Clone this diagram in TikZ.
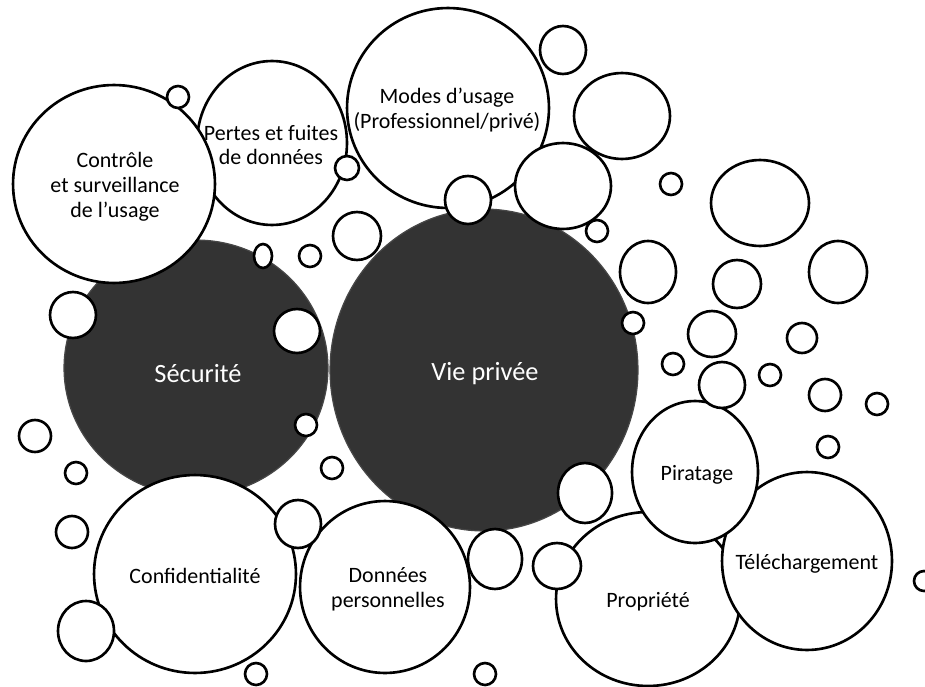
\documentclass[tikz,border=0pt]{standalone}
\usepackage{fontspec}
\setmainfont{Carlito}
\usetikzlibrary{shapes.geometric}

\tikzset{
  bub/.style 2 args={ellipse, draw, fill=white, line width=1.5pt, inner sep=0pt,
    minimum width=#1*0.04cm, minimum height=#2*0.04cm},
  darkbub/.style 2 args={ellipse, draw=black!72, fill=black!80, line width=0.7pt,
    inner sep=0pt, minimum width=#1*0.04cm, minimum height=#2*0.04cm},
  lab/.style={font=\fontsize{12.5}{14.2}\selectfont, align=center},
  biglab/.style={font=\fontsize{15}{18}\selectfont, text=white}
}

\begin{document}
\begin{tikzpicture}[x=0.02cm, y=-0.02cm]
  \useasboundingbox (0,0) rectangle (925,686);
  % the two themes
  \node[darkbub={132}{128}] (secu) at (196,368) {};
  \node[darkbub={154}{161}] (vie) at (484,370) {};
  % labelled bubbles
  \node[bub={75}{82}] (pertes) at (272,143) {};
  \node[bub={101}{99}] (controle) at (114,184) {};
  \node[bub={101}{100}] (modes) at (448,108) {};
  \node[bub={101}{99}] (confid) at (195,574) {};
  \node[bub={85}{86}] (donnees) at (385,587) {};
  \node[bub={92}{87}] (propriete) at (648,599) {};
  \node[bub={85}{89}] (telech) at (807,561) {};
  \node[bub={63}{71}] (piratage) at (695,472) {};
  % the small ones
  \foreach \x/\y/\a/\b [count=\i] in {178/97/11/11, 347/168/12/12, 263/256/9/12,
      310/256/11/11, 357/236/24/24, 73/315/23/23, 297/331/23/22, 468/200/23/24,
      563/50/23/24, 622/116/48/43, 563/186/48/43, 597/231/11/11, 671/184/11/11,
      760/203/49/43, 648/272/28/31, 737/284/24/24, 838/272/29/31, 633/323/11/11,
      712/334/24/23, 802/338/15/15, 673/364/11/11, 722/385/23/23, 770/375/11/11,
      825/395/16/16, 877/404/11/11, 828/447/11/11, 585/493/27/30, 495/559/27/30,
      557/566/24/23, 485/674/11/11, 924/581/10/10, 306/425/11/11, 35/436/16/16,
      76/473/11/11, 332/468/11/11, 72/532/16/16, 298/524/23/24, 86/631/28/30,
      256/674/11/11}
    \node[bub={\a}{\b}] (c\i) at (\x,\y) {};
  % texts
  \node[biglab] (tsecu) at (198,374) {Sécurité};
  \node[biglab] (tvie) at (485,374) {Vie privée};
  \node[lab] (tcontrole) at (115,187) {Contrôle\\et surveillance\\de l’usage};
  \node[lab] (tpertes) at (271,145) {Pertes et fuites\\de données};
  \node[lab] (tmodes) at (447,110) {Modes d’usage\\(Professionnel/privé)};
  \node[lab] (tconfid) at (195,576) {Confidentialité};
  \node[lab] (tdonnees) at (388,589) {Données\\personnelles};
  \node[lab] (tpropriete) at (648,602) {Propriété};
  \node[lab] (ttelech) at (807,564) {Téléchargement};
  \node[lab] (tpiratage) at (697,475) {Piratage};
\end{tikzpicture}
\end{document}
